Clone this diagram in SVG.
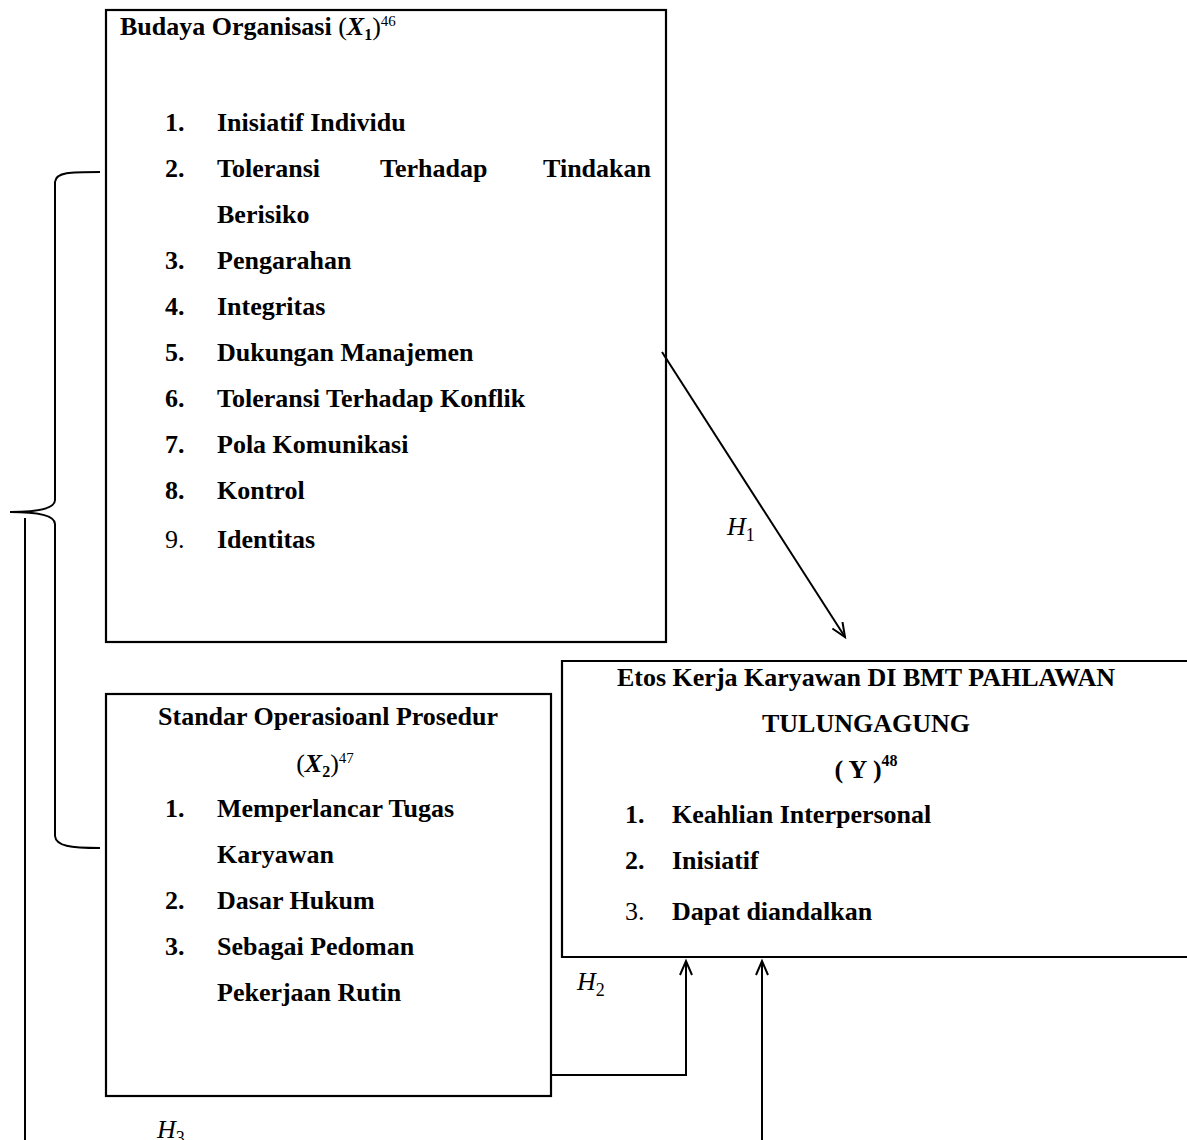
<svg xmlns="http://www.w3.org/2000/svg" width="1187" height="1140" viewBox="0 0 1187 1140">
<style>
.box{fill:none;stroke:#000;stroke-width:2.2}
.t{font-family:"Liberation Serif","Times New Roman",serif;font-size:26px;font-weight:bold;fill:#000}
.n{font-weight:normal}
.m{font-family:"Liberation Serif","Times New Roman",serif;fill:#000}
.ln{fill:none;stroke:#000;stroke-width:2}
</style>
<defs>
<marker id="ah" markerUnits="userSpaceOnUse" markerWidth="20" markerHeight="20" refX="15" refY="7" orient="auto">
<path d="M1,1 L15,7 L1,13" fill="none" stroke="#000" stroke-width="2"/>
</marker>
</defs>
<rect width="1187" height="1140" fill="#fff"/>

<g id="node-budaya">
<rect class="box" x="106" y="10" width="560" height="632"/>
<text class="t" x="120" y="35" font-size="22">Budaya Organisasi <tspan class="n">(</tspan><tspan font-style="italic">X</tspan><tspan font-size="16" dy="5">1</tspan><tspan class="n" dy="-5">)</tspan><tspan class="n" font-size="15" dy="-9">46</tspan></text>
<text class="t" x="165" y="131">1.</text><text class="t" x="217" y="131">Inisiatif Individu</text>
<text class="t" x="165" y="177">2.</text><text class="t" x="217" y="177">Toleransi</text><text class="t" x="380" y="177">Terhadap</text><text class="t" x="651" y="177" text-anchor="end">Tindakan</text>
<text class="t" x="217" y="223">Berisiko</text>
<text class="t" x="165" y="269">3.</text><text class="t" x="217" y="269">Pengarahan</text>
<text class="t" x="165" y="315">4.</text><text class="t" x="217" y="315">Integritas</text>
<text class="t" x="165" y="361">5.</text><text class="t" x="217" y="361">Dukungan Manajemen</text>
<text class="t" x="165" y="407">6.</text><text class="t" x="217" y="407">Toleransi Terhadap Konflik</text>
<text class="t" x="165" y="453">7.</text><text class="t" x="217" y="453">Pola Komunikasi</text>
<text class="t" x="165" y="499">8.</text><text class="t" x="217" y="499">Kontrol</text>
<text class="t n" x="165" y="548">9.</text><text class="t" x="217" y="548">Identitas</text>
</g>

<g id="node-sop">
<rect class="box" x="106" y="694" width="445" height="402"/>
<text class="t" x="328" y="725" text-anchor="middle">Standar Operasioanl Prosedur</text>
<text class="t" x="325" y="772" text-anchor="middle" font-size="22"><tspan class="n">(</tspan><tspan font-style="italic">X</tspan><tspan font-size="16" dy="5">2</tspan><tspan class="n" dy="-5">)</tspan><tspan class="n" font-size="15" dy="-9">47</tspan></text>
<text class="t" x="165" y="817">1.</text><text class="t" x="217" y="817">Memperlancar Tugas</text>
<text class="t" x="217" y="863">Karyawan</text>
<text class="t" x="165" y="909">2.</text><text class="t" x="217" y="909">Dasar Hukum</text>
<text class="t" x="165" y="955">3.</text><text class="t" x="217" y="955">Sebagai Pedoman</text>
<text class="t" x="217" y="1001">Pekerjaan Rutin</text>
</g>

<g id="node-etos">
<path class="box" d="M1190,661 H562 V957 H1190"/>
<text class="t" x="866" y="686" text-anchor="middle">Etos Kerja Karyawan DI BMT PAHLAWAN</text>
<text class="t" x="866" y="732" text-anchor="middle">TULUNGAGUNG</text>
<text class="t" x="866" y="778" text-anchor="middle">( Y )<tspan font-size="16" dy="-12">48</tspan></text>
<text class="t" x="625" y="823">1.</text><text class="t" x="672" y="823">Keahlian Interpersonal</text>
<text class="t" x="625" y="869">2.</text><text class="t" x="672" y="869">Inisiatif</text>
<text class="t n" x="625" y="920" font-size="28">3.</text><text class="t" x="672" y="920">Dapat diandalkan</text>
</g>

<g id="connectors">
<path class="ln" d="M100,172 C70,172 56,172 55,182 L55,500 C55,510 30,512 10,512 C30,512 55,514 55,524 L55,836 C56,846 70,848 100,848"/>
<line class="ln" x1="25" y1="518" x2="25" y2="1140"/>
<line class="ln" x1="662" y1="352" x2="845" y2="637" marker-end="url(#ah)"/>
<path class="ln" d="M551,1075 H686 V961" marker-end="url(#ah)"/>
<line class="ln" x1="762" y1="1140" x2="762" y2="961" marker-end="url(#ah)"/>
</g>

<g id="labels">
<text class="m" x="727" y="535" font-size="26" font-style="italic">H<tspan font-style="normal" font-size="18" dy="6">1</tspan></text>
<text class="m" x="577" y="990" font-size="26" font-style="italic">H<tspan font-style="normal" font-size="18" dy="6">2</tspan></text>
<text class="m" x="157" y="1138" font-size="26" font-style="italic">H<tspan font-style="normal" font-size="18" dy="6">3</tspan></text>
</g>
</svg>
